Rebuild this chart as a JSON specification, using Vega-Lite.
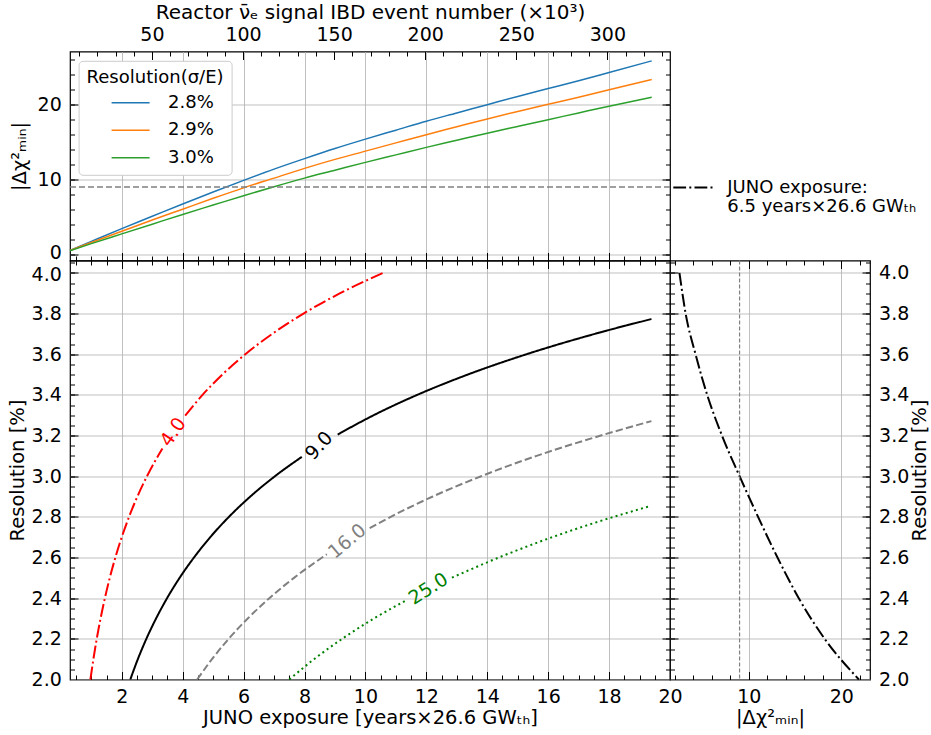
{
  "$schema": "https://vega.github.io/schema/vega-lite/v6.json",
  "padding": {"left": 6, "top": 1.5, "right": 2, "bottom": 2},
  "background": "white",
  "config": {
    "font": "DejaVu Sans",
    "view": {"stroke": "black", "strokeWidth": 1.2},
    "axis": {"domain": false, "labelFont": "DejaVu Sans", "labelFontSize": 19, "labelColor": "black", "titleFont": "DejaVu Sans", "titleFontSize": 19.5, "titleFontWeight": "normal", "titleColor": "black", "gridColor": "#b0b0b0", "gridWidth": 1, "gridOpacity": 0.8, "tickColor": "black", "tickWidth": 1, "labelOverlap": false, "labelFlush": false},
    "legend": {"labelFont": "DejaVu Sans", "titleFont": "DejaVu Sans", "labelColor": "black", "titleColor": "black", "labelLimit": 400},
    "style": {"guide-label": {"lineHeight": 19}}
  },
  "datasets": {
    "top": [
      {"res": "2.8%", "exp": 0.3, "chi": 0.55}, {"res": "2.8%", "exp": 1, "chi": 1.75}, {"res": "2.8%", "exp": 2, "chi": 3.45}, {"res": "2.8%", "exp": 3, "chi": 5.1}, {"res": "2.8%", "exp": 4, "chi": 6.75}, {"res": "2.8%", "exp": 5, "chi": 8.35}, {"res": "2.8%", "exp": 6, "chi": 9.9}, {"res": "2.8%", "exp": 7, "chi": 11.4}, {"res": "2.8%", "exp": 8, "chi": 12.8}, {"res": "2.8%", "exp": 9, "chi": 14.15}, {"res": "2.8%", "exp": 10, "chi": 15.4}, {"res": "2.8%", "exp": 11, "chi": 16.6}, {"res": "2.8%", "exp": 12, "chi": 17.8}, {"res": "2.8%", "exp": 13, "chi": 18.9}, {"res": "2.8%", "exp": 14, "chi": 20.0}, {"res": "2.8%", "exp": 15, "chi": 21.1}, {"res": "2.8%", "exp": 16, "chi": 22.15}, {"res": "2.8%", "exp": 17, "chi": 23.2}, {"res": "2.8%", "exp": 18, "chi": 24.3}, {"res": "2.8%", "exp": 19.4, "chi": 25.85},
      {"res": "2.9%", "exp": 0.3, "chi": 0.55}, {"res": "2.9%", "exp": 1, "chi": 1.6}, {"res": "2.9%", "exp": 2, "chi": 3.1}, {"res": "2.9%", "exp": 3, "chi": 4.6}, {"res": "2.9%", "exp": 4, "chi": 6.05}, {"res": "2.9%", "exp": 5, "chi": 7.5}, {"res": "2.9%", "exp": 6, "chi": 8.9}, {"res": "2.9%", "exp": 7, "chi": 10.2}, {"res": "2.9%", "exp": 8, "chi": 11.5}, {"res": "2.9%", "exp": 9, "chi": 12.7}, {"res": "2.9%", "exp": 10, "chi": 13.8}, {"res": "2.9%", "exp": 11, "chi": 14.9}, {"res": "2.9%", "exp": 12, "chi": 16.0}, {"res": "2.9%", "exp": 13, "chi": 17.05}, {"res": "2.9%", "exp": 14, "chi": 18.1}, {"res": "2.9%", "exp": 15, "chi": 19.1}, {"res": "2.9%", "exp": 16, "chi": 20.05}, {"res": "2.9%", "exp": 17, "chi": 21.0}, {"res": "2.9%", "exp": 18, "chi": 22.0}, {"res": "2.9%", "exp": 19.4, "chi": 23.35},
      {"res": "3.0%", "exp": 0.3, "chi": 0.5}, {"res": "3.0%", "exp": 1, "chi": 1.45}, {"res": "3.0%", "exp": 2, "chi": 2.75}, {"res": "3.0%", "exp": 3, "chi": 4.05}, {"res": "3.0%", "exp": 4, "chi": 5.35}, {"res": "3.0%", "exp": 5, "chi": 6.6}, {"res": "3.0%", "exp": 6, "chi": 7.85}, {"res": "3.0%", "exp": 7, "chi": 9.05}, {"res": "3.0%", "exp": 8, "chi": 10.2}, {"res": "3.0%", "exp": 9, "chi": 11.25}, {"res": "3.0%", "exp": 10, "chi": 12.3}, {"res": "3.0%", "exp": 11, "chi": 13.3}, {"res": "3.0%", "exp": 12, "chi": 14.3}, {"res": "3.0%", "exp": 13, "chi": 15.25}, {"res": "3.0%", "exp": 14, "chi": 16.2}, {"res": "3.0%", "exp": 15, "chi": 17.1}, {"res": "3.0%", "exp": 16, "chi": 18.0}, {"res": "3.0%", "exp": 17, "chi": 18.9}, {"res": "3.0%", "exp": 18, "chi": 19.8}, {"res": "3.0%", "exp": 19.4, "chi": 21.0}
    ],
    "threshold": [{"chi": 9}],
    "contours": [
      {"lvl": "4.0", "seg": "a", "exp": 0.97, "res": 2.0}, {"lvl": "4.0", "seg": "a", "exp": 1.068, "res": 2.1}, {"lvl": "4.0", "seg": "a", "exp": 1.178, "res": 2.2}, {"lvl": "4.0", "seg": "a", "exp": 1.303, "res": 2.3}, {"lvl": "4.0", "seg": "a", "exp": 1.445, "res": 2.4}, {"lvl": "4.0", "seg": "a", "exp": 1.606, "res": 2.5}, {"lvl": "4.0", "seg": "a", "exp": 1.789, "res": 2.6}, {"lvl": "4.0", "seg": "a", "exp": 1.999, "res": 2.7}, {"lvl": "4.0", "seg": "a", "exp": 2.238, "res": 2.8}, {"lvl": "4.0", "seg": "a", "exp": 2.513, "res": 2.9}, {"lvl": "4.0", "seg": "a", "exp": 2.828, "res": 3.0}, {"lvl": "4.0", "seg": "a", "exp": 3.095, "res": 3.075}, {"lvl": "4.0", "seg": "a", "exp": 3.335, "res": 3.136},
      {"lvl": "4.0", "seg": "b", "exp": 4.082, "res": 3.298}, {"lvl": "4.0", "seg": "b", "exp": 4.652, "res": 3.4}, {"lvl": "4.0", "seg": "b", "exp": 5.302, "res": 3.5}, {"lvl": "4.0", "seg": "b", "exp": 6.057, "res": 3.6}, {"lvl": "4.0", "seg": "b", "exp": 6.938, "res": 3.7}, {"lvl": "4.0", "seg": "b", "exp": 7.966, "res": 3.8}, {"lvl": "4.0", "seg": "b", "exp": 9.17, "res": 3.9}, {"lvl": "4.0", "seg": "b", "exp": 10.58, "res": 4.0},
      {"lvl": "9.0", "seg": "a", "exp": 2.28, "res": 2.0}, {"lvl": "9.0", "seg": "a", "exp": 2.527, "res": 2.1}, {"lvl": "9.0", "seg": "a", "exp": 2.807, "res": 2.2}, {"lvl": "9.0", "seg": "a", "exp": 3.126, "res": 2.3}, {"lvl": "9.0", "seg": "a", "exp": 3.487, "res": 2.4}, {"lvl": "9.0", "seg": "a", "exp": 3.899, "res": 2.5}, {"lvl": "9.0", "seg": "a", "exp": 4.37, "res": 2.6}, {"lvl": "9.0", "seg": "a", "exp": 4.904, "res": 2.7}, {"lvl": "9.0", "seg": "a", "exp": 5.518, "res": 2.8}, {"lvl": "9.0", "seg": "a", "exp": 6.221, "res": 2.9}, {"lvl": "9.0", "seg": "a", "exp": 7.03, "res": 3.0}, {"lvl": "9.0", "seg": "a", "exp": 7.91, "res": 3.095},
      {"lvl": "9.0", "seg": "b", "exp": 9.088, "res": 3.205}, {"lvl": "9.0", "seg": "b", "exp": 10.27, "res": 3.3}, {"lvl": "9.0", "seg": "b", "exp": 11.7, "res": 3.4}, {"lvl": "9.0", "seg": "b", "exp": 13.36, "res": 3.5}, {"lvl": "9.0", "seg": "b", "exp": 15.29, "res": 3.6}, {"lvl": "9.0", "seg": "b", "exp": 17.53, "res": 3.7}, {"lvl": "9.0", "seg": "b", "exp": 19.39, "res": 3.773},
      {"lvl": "16.0", "seg": "a", "exp": 4.476, "res": 2.0}, {"lvl": "16.0", "seg": "a", "exp": 4.961, "res": 2.1}, {"lvl": "16.0", "seg": "a", "exp": 5.51, "res": 2.2}, {"lvl": "16.0", "seg": "a", "exp": 6.136, "res": 2.3}, {"lvl": "16.0", "seg": "a", "exp": 6.845, "res": 2.4}, {"lvl": "16.0", "seg": "a", "exp": 7.654, "res": 2.5}, {"lvl": "16.0", "seg": "a", "exp": 8.578, "res": 2.6}, {"lvl": "16.0", "seg": "a", "exp": 8.733, "res": 2.616},
      {"lvl": "16.0", "seg": "b", "exp": 10.14, "res": 2.744}, {"lvl": "16.0", "seg": "b", "exp": 10.83, "res": 2.8}, {"lvl": "16.0", "seg": "b", "exp": 12.21, "res": 2.9}, {"lvl": "16.0", "seg": "b", "exp": 13.8, "res": 3.0}, {"lvl": "16.0", "seg": "b", "exp": 15.62, "res": 3.1}, {"lvl": "16.0", "seg": "b", "exp": 17.73, "res": 3.2}, {"lvl": "16.0", "seg": "b", "exp": 19.39, "res": 3.271},
      {"lvl": "25.0", "seg": "a", "exp": 7.5, "res": 2.0}, {"lvl": "25.0", "seg": "a", "exp": 8.314, "res": 2.1}, {"lvl": "25.0", "seg": "a", "exp": 9.235, "res": 2.2}, {"lvl": "25.0", "seg": "a", "exp": 10.28, "res": 2.3}, {"lvl": "25.0", "seg": "a", "exp": 11.36, "res": 2.391},
      {"lvl": "25.0", "seg": "b", "exp": 12.84, "res": 2.501}, {"lvl": "25.0", "seg": "b", "exp": 14.38, "res": 2.6}, {"lvl": "25.0", "seg": "b", "exp": 16.13, "res": 2.7}, {"lvl": "25.0", "seg": "b", "exp": 18.15, "res": 2.8}, {"lvl": "25.0", "seg": "b", "exp": 19.32, "res": 2.852}
    ],
    "contourLabels": [
      {"lvl": "4.0", "exp": 3.686, "res": 3.217},
      {"lvl": "9.0", "exp": 8.476, "res": 3.15},
      {"lvl": "16.0", "exp": 9.4, "res": 2.68},
      {"lvl": "25.0", "exp": 12.07, "res": 2.446}
    ],
    "juno": [
      {"series": "juno", "chi": 2.5, "res": 4.0}, {"series": "juno", "chi": 3.17, "res": 3.8}, {"series": "juno", "chi": 4.24, "res": 3.6}, {"series": "juno", "chi": 5.5, "res": 3.4}, {"series": "juno", "chi": 7.1, "res": 3.2}, {"series": "juno", "chi": 9.0, "res": 3.0}, {"series": "juno", "chi": 11.0, "res": 2.8}, {"series": "juno", "chi": 13.1, "res": 2.6}, {"series": "juno", "chi": 15.4, "res": 2.4}, {"series": "juno", "chi": 18.2, "res": 2.2}, {"series": "juno", "chi": 21.9, "res": 2.0}
    ]
  },
  "columns": 2,
  "spacing": 0,
  "bounds": "flush",
  "align": "each",
  "resolve": {"scale": {"x": "independent", "y": "independent", "color": "independent", "strokeDash": "independent"}, "legend": {"color": "independent", "strokeDash": "independent"}},
  "concat": [
    {
      "width": 600,
      "height": 209,
      "layer": [
        {
          "data": {"name": "top"},
          "mark": {"type": "line", "strokeWidth": 1.5, "interpolate": "monotone"},
          "encoding": {
            "x": {"field": "exp", "type": "quantitative", "scale": {"domain": [0.3, 20], "nice": false, "zero": false}, "axis": {"orient": "bottom", "values": [2, 4, 6, 8, 10, 12, 14, 16, 18], "labels": false, "ticks": false, "grid": true, "title": null}},
            "y": {"field": "chi", "type": "quantitative", "scale": {"domain": [-0.8, 27.1], "nice": false, "zero": false}, "axis": {"orient": "left", "values": [0, 10, 20], "ticks": false, "grid": true, "labelPadding": 8.7, "labelOffset": {"condition": {"test": "datum.value === 0", "value": -2}, "value": 0}, "title": "|Δχ²ₘᵢₙ|", "titlePadding": 8}},
            "color": {"field": "res", "type": "nominal", "scale": {"domain": ["2.8%", "2.9%", "3.0%"], "range": ["#1f77b4", "#ff7f0e", "#2ca02c"]},
              "legend": {"orient": "none", "legendX": 8.6, "legendY": 9.3, "title": "Resolution(σ/E)", "titleFontSize": 18, "titleFontWeight": "normal", "labelFontSize": 18, "symbolType": "M-3.8,0H3.8", "symbolSize": 100, "symbolStrokeWidth": 1.5, "symbolOffset": 35, "labelOffset": 28.4, "rowPadding": 9.5, "fillColor": "white", "strokeColor": "#cccccc", "cornerRadius": 4, "padding": 8, "titlePadding": 7}}
          }
        },
        {
          "data": {"name": "threshold"},
          "mark": {"type": "rule", "color": "#808080", "strokeDash": [6, 3], "strokeWidth": 1.5},
          "encoding": {"y": {"field": "chi", "type": "quantitative", "scale": {"domain": [-0.8, 27.1], "nice": false, "zero": false}, "axis": null}}
        },
        {
          "data": {"name": "top"},
          "mark": {"type": "point", "opacity": 0},
          "encoding": {
            "x": {"field": "exp", "type": "quantitative", "scale": {"domain": [0.3, 20], "nice": false, "zero": false}, "axis": {"orient": "bottom", "values": [2, 4, 6, 8, 10, 12, 14, 16, 18], "tickSize": -8, "labels": false, "grid": false, "title": null}},
            "y": {"field": "chi", "type": "quantitative", "scale": {"domain": [-0.8, 27.1], "nice": false, "zero": false}, "axis": {"orient": "left", "values": [0, 10, 20], "tickSize": -8, "labels": false, "grid": false, "title": null}}
          }
        },
        {
          "data": {"name": "top"},
          "mark": {"type": "point", "opacity": 0},
          "encoding": {
            "x": {"field": "exp", "type": "quantitative", "scale": {"domain": [0.3, 20], "nice": false, "zero": false}, "axis": {"orient": "bottom", "values": [0.5, 1, 1.5, 2, 2.5, 3, 3.5, 4, 4.5, 5, 5.5, 6, 6.5, 7, 7.5, 8, 8.5, 9, 9.5, 10, 10.5, 11, 11.5, 12, 12.5, 13, 13.5, 14, 14.5, 15, 15.5, 16, 16.5, 17, 17.5, 18, 18.5, 19, 19.5], "tickSize": -4.5, "labels": false, "grid": false, "title": null}},
            "y": {"field": "chi", "type": "quantitative", "scale": {"domain": [-0.8, 27.1], "nice": false, "zero": false}, "axis": {"orient": "left", "values": [0, 2, 4, 6, 8, 10, 12, 14, 16, 18, 20, 22, 24, 26], "tickSize": -4.5, "labels": false, "grid": false, "title": null}}
          }
        },
        {
          "data": {"name": "top"},
          "mark": {"type": "point", "opacity": 0},
          "encoding": {
            "x": {"field": "exp", "type": "quantitative", "scale": {"domain": [0.3, 20], "nice": false, "zero": false}, "axis": {"orient": "top", "values": [2.9904, 5.9809, 8.9713, 11.9617, 14.9522, 17.9426], "labelExpr": "format(round(datum.value*16.72/10)*10, 'd')", "ticks": false, "grid": false, "labelPadding": 7.5, "title": "Reactor ν̄ₑ signal IBD event number (×10³)", "titleFontSize": 20, "titlePadding": 2.4}},
            "y": {"field": "chi", "type": "quantitative", "scale": {"domain": [-0.8, 27.1], "nice": false, "zero": false}, "axis": {"orient": "right", "values": [0, 10, 20], "tickSize": -8, "labels": false, "grid": false, "title": null}}
          }
        },
        {
          "data": {"name": "top"},
          "mark": {"type": "point", "opacity": 0},
          "encoding": {
            "x": {"field": "exp", "type": "quantitative", "scale": {"domain": [0.3, 20], "nice": false, "zero": false}, "axis": {"orient": "top", "values": [2.9904, 5.9809, 8.9713, 11.9617, 14.9522, 17.9426], "tickSize": -8, "labels": false, "grid": false, "title": null}},
            "y": {"field": "chi", "type": "quantitative", "scale": {"domain": [-0.8, 27.1], "nice": false, "zero": false}, "axis": {"orient": "right", "values": [0, 2, 4, 6, 8, 10, 12, 14, 16, 18, 20, 22, 24, 26], "tickSize": -4.5, "labels": false, "grid": false, "title": null}}
          }
        },
        {
          "data": {"name": "top"},
          "mark": {"type": "point", "opacity": 0},
          "encoding": {
            "x": {"field": "exp", "type": "quantitative", "scale": {"domain": [0.3, 20], "nice": false, "zero": false}, "axis": {"orient": "top", "values": [0.5981, 1.1962, 1.7943, 2.3923, 2.9904, 3.5885, 4.1866, 4.7847, 5.3828, 5.9809, 6.5789, 7.177, 7.7751, 8.3732, 8.9713, 9.5694, 10.1675, 10.7656, 11.3636, 11.9617, 12.5598, 13.1579, 13.756, 14.3541, 14.9522, 15.5502, 16.1483, 16.7464, 17.3445, 17.9426, 18.5407, 19.1388, 19.7368], "tickSize": -4.5, "labels": false, "grid": false, "title": null}},
            "y": {"field": "chi", "type": "quantitative", "scale": {"domain": [-0.8, 27.1], "nice": false, "zero": false}, "axis": null}
          }
        }
      ],
      "resolve": {"axis": {"x": "independent", "y": "independent"}}
    },
    {
      "width": 200,
      "height": 209,
      "view": {"stroke": null},
      "data": {"name": "juno"},
      "mark": {"type": "line", "opacity": 0},
      "encoding": {
        "x": {"field": "chi", "type": "quantitative", "axis": null},
        "y": {"field": "res", "type": "quantitative", "axis": null},
        "strokeDash": {"field": "series", "type": "nominal", "scale": {"domain": ["juno"], "range": [[12.8, 3.2, 2, 3.2]]},
          "legend": {"orient": "none", "legendX": 2.3, "legendY": 115, "title": null, "labelExpr": "['JUNO exposure:', '\u00a0\u00a06.5 years×26.6 GWₜₕ']", "labelFontSize": 18, "symbolType": "stroke", "symbolSize": 1600, "symbolStrokeWidth": 2, "symbolStrokeColor": "black", "symbolOpacity": 1, "labelOffset": 13, "padding": 0}}
      }
    },
    {
      "width": 600,
      "height": 419,
      "layer": [
        {
          "data": {"name": "contours"},
          "mark": {"type": "line", "strokeWidth": 2, "interpolate": "monotone"},
          "encoding": {
            "x": {"field": "exp", "type": "quantitative", "scale": {"domain": [0.3, 20], "nice": false, "zero": false}, "axis": {"orient": "bottom", "values": [2, 4, 6, 8, 10, 12, 14, 16, 18, 20], "format": "d", "ticks": false, "grid": true, "labelPadding": 8, "title": "JUNO exposure [years×26.6 GWₜₕ]", "titlePadding": 2}},
            "y": {"field": "res", "type": "quantitative", "scale": {"domain": [2.0, 4.061], "nice": false, "zero": false}, "axis": {"orient": "left", "values": [2.0, 2.2, 2.4, 2.6, 2.8, 3.0, 3.2, 3.4, 3.6, 3.8, 4.0], "format": ".1f", "ticks": false, "grid": true, "labelPadding": 8.7, "labelOffset": {"condition": {"test": "datum.value === 4", "value": 2}, "value": 0}, "title": "Resolution [%]", "titlePadding": 4}},
            "color": {"field": "lvl", "type": "nominal", "scale": {"domain": ["4.0", "9.0", "16.0", "25.0"], "range": ["#ff0000", "#000000", "#808080", "#008000"]}, "legend": null},
            "strokeDash": {"field": "lvl", "type": "nominal", "scale": {"domain": ["4.0", "9.0", "16.0", "25.0"], "range": [[12.8, 3.2, 2, 3.2], [1, 0], [7.4, 3.2], [2, 3.3]]}, "legend": null},
            "detail": {"field": "seg"}
          }
        },
        {
          "data": {"name": "contourLabels"},
          "mark": {"type": "text", "fontSize": 19, "baseline": "middle", "align": "center"},
          "encoding": {
            "x": {"field": "exp", "type": "quantitative", "scale": {"domain": [0.3, 20], "nice": false, "zero": false}, "axis": null},
            "y": {"field": "res", "type": "quantitative", "scale": {"domain": [2.0, 4.061], "nice": false, "zero": false}, "axis": null},
            "text": {"field": "lvl"},
            "color": {"field": "lvl", "type": "nominal", "legend": null},
            "angle": {"field": "lvl", "type": "nominal", "scale": {"domain": ["4.0", "9.0", "16.0", "25.0"], "range": [305, 328, 329, 334]}, "legend": null}
          }
        },
        {
          "data": {"name": "contours"},
          "mark": {"type": "point", "opacity": 0},
          "encoding": {
            "x": {"field": "exp", "type": "quantitative", "scale": {"domain": [0.3, 20], "nice": false, "zero": false}, "axis": {"orient": "bottom", "values": [2, 4, 6, 8, 10, 12, 14, 16, 18], "tickSize": -8, "labels": false, "grid": false, "title": null}},
            "y": {"field": "res", "type": "quantitative", "scale": {"domain": [2.0, 4.061], "nice": false, "zero": false}, "axis": {"orient": "left", "values": [2.2, 2.4, 2.6, 2.8, 3.0, 3.2, 3.4, 3.6, 3.8, 4.0], "tickSize": -8, "labels": false, "grid": false, "title": null}}
          }
        },
        {
          "data": {"name": "contours"},
          "mark": {"type": "point", "opacity": 0},
          "encoding": {
            "x": {"field": "exp", "type": "quantitative", "scale": {"domain": [0.3, 20], "nice": false, "zero": false}, "axis": {"orient": "bottom", "values": [0.5, 1, 1.5, 2, 2.5, 3, 3.5, 4, 4.5, 5, 5.5, 6, 6.5, 7, 7.5, 8, 8.5, 9, 9.5, 10, 10.5, 11, 11.5, 12, 12.5, 13, 13.5, 14, 14.5, 15, 15.5, 16, 16.5, 17, 17.5, 18, 18.5, 19, 19.5], "tickSize": -4.5, "labels": false, "grid": false, "title": null}},
            "y": {"field": "res", "type": "quantitative", "scale": {"domain": [2.0, 4.061], "nice": false, "zero": false}, "axis": {"orient": "left", "values": [2.05, 2.1, 2.15, 2.2, 2.25, 2.3, 2.35, 2.4, 2.45, 2.5, 2.55, 2.6, 2.65, 2.7, 2.75, 2.8, 2.85, 2.9, 2.95, 3.0, 3.05, 3.1, 3.15, 3.2, 3.25, 3.3, 3.35, 3.4, 3.45, 3.5, 3.55, 3.6, 3.65, 3.7, 3.75, 3.8, 3.85, 3.9, 3.95, 4.0, 4.05], "tickSize": -4.5, "labels": false, "grid": false, "title": null}}
          }
        },
        {
          "data": {"name": "contours"},
          "mark": {"type": "point", "opacity": 0},
          "encoding": {
            "x": {"field": "exp", "type": "quantitative", "scale": {"domain": [0.3, 20], "nice": false, "zero": false}, "axis": {"orient": "top", "values": [2, 4, 6, 8, 10, 12, 14, 16, 18], "tickSize": -8, "labels": false, "grid": false, "title": null}},
            "y": {"field": "res", "type": "quantitative", "scale": {"domain": [2.0, 4.061], "nice": false, "zero": false}, "axis": {"orient": "right", "values": [2.2, 2.4, 2.6, 2.8, 3.0, 3.2, 3.4, 3.6, 3.8, 4.0], "tickSize": -8, "labels": false, "grid": false, "title": null}}
          }
        },
        {
          "data": {"name": "contours"},
          "mark": {"type": "point", "opacity": 0},
          "encoding": {
            "x": {"field": "exp", "type": "quantitative", "scale": {"domain": [0.3, 20], "nice": false, "zero": false}, "axis": {"orient": "top", "values": [0.5, 1, 1.5, 2, 2.5, 3, 3.5, 4, 4.5, 5, 5.5, 6, 6.5, 7, 7.5, 8, 8.5, 9, 9.5, 10, 10.5, 11, 11.5, 12, 12.5, 13, 13.5, 14, 14.5, 15, 15.5, 16, 16.5, 17, 17.5, 18, 18.5, 19, 19.5], "tickSize": -4.5, "labels": false, "grid": false, "title": null}},
            "y": {"field": "res", "type": "quantitative", "scale": {"domain": [2.0, 4.061], "nice": false, "zero": false}, "axis": {"orient": "right", "values": [2.05, 2.1, 2.15, 2.2, 2.25, 2.3, 2.35, 2.4, 2.45, 2.5, 2.55, 2.6, 2.65, 2.7, 2.75, 2.8, 2.85, 2.9, 2.95, 3.0, 3.05, 3.1, 3.15, 3.2, 3.25, 3.3, 3.35, 3.4, 3.45, 3.5, 3.55, 3.6, 3.65, 3.7, 3.75, 3.8, 3.85, 3.9, 3.95, 4.0, 4.05], "tickSize": -4.5, "labels": false, "grid": false, "title": null}}
          }
        }
      ],
      "resolve": {"axis": {"x": "independent", "y": "independent"}}
    },
    {
      "width": 200,
      "height": 419,
      "layer": [
        {
          "data": {"name": "juno"},
          "mark": {"type": "line", "strokeWidth": 2, "color": "black", "strokeDash": [12.8, 3.2, 2, 3.2], "interpolate": "monotone"},
          "encoding": {
            "x": {"field": "chi", "type": "quantitative", "scale": {"domain": [1.48, 23.1], "nice": false, "zero": false}, "axis": {"orient": "bottom", "values": [10, 20], "format": "d", "ticks": false, "grid": true, "labelPadding": 8, "title": "|Δχ²ₘᵢₙ|", "titlePadding": 2}},
            "y": {"field": "res", "type": "quantitative", "scale": {"domain": [2.0, 4.061], "nice": false, "zero": false}, "axis": {"orient": "right", "values": [2.0, 2.2, 2.4, 2.6, 2.8, 3.0, 3.2, 3.4, 3.6, 3.8, 4.0], "format": ".1f", "ticks": false, "grid": true, "labelPadding": 8.6, "title": "Resolution [%]", "titlePadding": 1.5, "titleAngle": 270, "titleBaseline": "top"}}
          }
        },
        {
          "data": {"name": "threshold"},
          "mark": {"type": "rule", "color": "#808080", "strokeDash": [4, 2], "strokeWidth": 1.2},
          "encoding": {"x": {"field": "chi", "type": "quantitative", "scale": {"domain": [1.48, 23.1], "nice": false, "zero": false}, "axis": null}}
        },
        {
          "data": {"name": "juno"},
          "mark": {"type": "point", "opacity": 0},
          "encoding": {
            "x": {"field": "chi", "type": "quantitative", "scale": {"domain": [1.48, 23.1], "nice": false, "zero": false}, "axis": {"orient": "bottom", "values": [10, 20], "tickSize": -8, "labels": false, "grid": false, "title": null}},
            "y": {"field": "res", "type": "quantitative", "scale": {"domain": [2.0, 4.061], "nice": false, "zero": false}, "axis": {"orient": "left", "values": [2.2, 2.4, 2.6, 2.8, 3.0, 3.2, 3.4, 3.6, 3.8, 4.0], "tickSize": -8, "labels": false, "grid": false, "title": null}}
          }
        },
        {
          "data": {"name": "juno"},
          "mark": {"type": "point", "opacity": 0},
          "encoding": {
            "x": {"field": "chi", "type": "quantitative", "scale": {"domain": [1.48, 23.1], "nice": false, "zero": false}, "axis": {"orient": "bottom", "values": [2, 4, 6, 8, 10, 12, 14, 16, 18, 20, 22], "tickSize": -4.5, "labels": false, "grid": false, "title": null}},
            "y": {"field": "res", "type": "quantitative", "scale": {"domain": [2.0, 4.061], "nice": false, "zero": false}, "axis": {"orient": "left", "values": [2.05, 2.1, 2.15, 2.2, 2.25, 2.3, 2.35, 2.4, 2.45, 2.5, 2.55, 2.6, 2.65, 2.7, 2.75, 2.8, 2.85, 2.9, 2.95, 3.0, 3.05, 3.1, 3.15, 3.2, 3.25, 3.3, 3.35, 3.4, 3.45, 3.5, 3.55, 3.6, 3.65, 3.7, 3.75, 3.8, 3.85, 3.9, 3.95, 4.0, 4.05], "tickSize": -4.5, "labels": false, "grid": false, "title": null}}
          }
        },
        {
          "data": {"name": "juno"},
          "mark": {"type": "point", "opacity": 0},
          "encoding": {
            "x": {"field": "chi", "type": "quantitative", "scale": {"domain": [1.48, 23.1], "nice": false, "zero": false}, "axis": {"orient": "top", "values": [10, 20], "tickSize": -8, "labels": false, "grid": false, "title": null}},
            "y": {"field": "res", "type": "quantitative", "scale": {"domain": [2.0, 4.061], "nice": false, "zero": false}, "axis": {"orient": "right", "values": [2.2, 2.4, 2.6, 2.8, 3.0, 3.2, 3.4, 3.6, 3.8, 4.0], "tickSize": -8, "labels": false, "grid": false, "title": null}}
          }
        },
        {
          "data": {"name": "juno"},
          "mark": {"type": "point", "opacity": 0},
          "encoding": {
            "x": {"field": "chi", "type": "quantitative", "scale": {"domain": [1.48, 23.1], "nice": false, "zero": false}, "axis": {"orient": "top", "values": [2, 4, 6, 8, 10, 12, 14, 16, 18, 20, 22], "tickSize": -4.5, "labels": false, "grid": false, "title": null}},
            "y": {"field": "res", "type": "quantitative", "scale": {"domain": [2.0, 4.061], "nice": false, "zero": false}, "axis": {"orient": "right", "values": [2.05, 2.1, 2.15, 2.2, 2.25, 2.3, 2.35, 2.4, 2.45, 2.5, 2.55, 2.6, 2.65, 2.7, 2.75, 2.8, 2.85, 2.9, 2.95, 3.0, 3.05, 3.1, 3.15, 3.2, 3.25, 3.3, 3.35, 3.4, 3.45, 3.5, 3.55, 3.6, 3.65, 3.7, 3.75, 3.8, 3.85, 3.9, 3.95, 4.0, 4.05], "tickSize": -4.5, "labels": false, "grid": false, "title": null}}
          }
        }
      ],
      "resolve": {"axis": {"x": "independent", "y": "independent"}}
    }
  ]
}
